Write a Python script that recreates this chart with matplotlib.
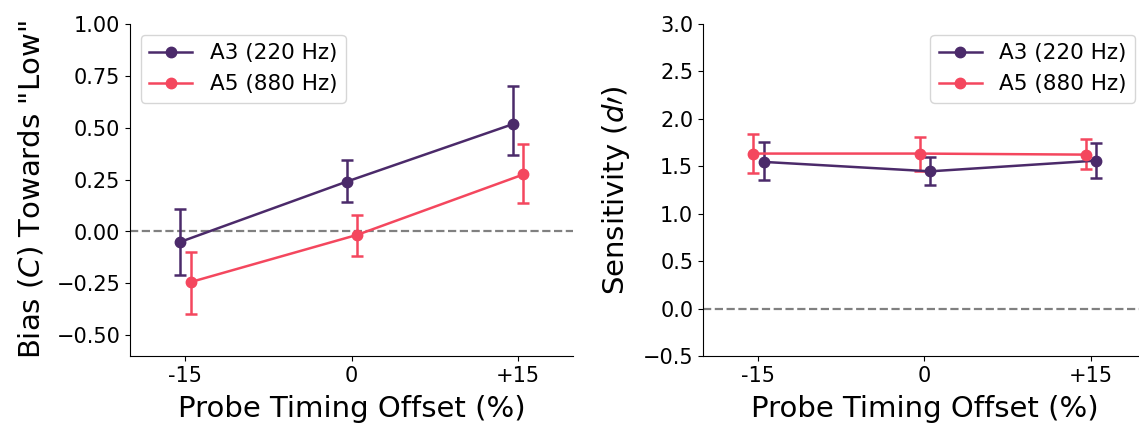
"""
Bias and sensitivity by probe timing offset, two reference pitches.
"""

import matplotlib
matplotlib.use("Agg")
import matplotlib.pyplot as plt

OFFSET_LABELS = ["-15", "0", "+15"]
SERIES_NAMES = ["A3 (220 Hz)", "A5 (880 Hz)"]
COLORS = ["#4b2a6a", "#f4475e"]

# bias (C) towards "low": mean, lower bound, upper bound
BIAS_A3 = [-0.05, 0.24, 0.517]
BIAS_A3_LO = [-0.21, 0.14, 0.37]
BIAS_A3_HI = [0.11, 0.345, 0.70]
BIAS_A5 = [-0.243, -0.016, 0.275]
BIAS_A5_LO = [-0.40, -0.12, 0.138]
BIAS_A5_HI = [-0.10, 0.08, 0.42]

# sensitivity (d')
DPRIME_A3 = [1.546, 1.447, 1.56]
DPRIME_A3_LO = [1.356, 1.30, 1.377]
DPRIME_A3_HI = [1.76, 1.60, 1.746]
DPRIME_A5 = [1.634, 1.634, 1.623]
DPRIME_A5_LO = [1.433, 1.454, 1.475]
DPRIME_A5_HI = [1.84, 1.81, 1.785]

TICK_FS = 15
LEGEND_FS = 15.5
LABEL_FS = 21


def draw_panel(ax, series, offsets, ylabel, ylim, yticks, yfmt):
    for (mean, lo, hi), name, color, off in zip(series, SERIES_NAMES, COLORS, offsets):
        x = [i + off for i in range(len(mean))]
        yerr = [[m - l for m, l in zip(mean, lo)], [h - m for m, h in zip(mean, hi)]]
        ax.errorbar(x, mean, yerr=yerr, fmt="none", ecolor=color,
                    elinewidth=1.8, capsize=4, capthick=1.8, zorder=3)
        ax.plot(x, mean, marker="o", markersize=7.5, linewidth=1.8,
                color=color, label=name, zorder=4)

    ax.axhline(0, color="gray", linestyle="--", linewidth=1.6, zorder=1)

    ax.set_xticks(range(len(OFFSET_LABELS)))
    ax.set_xticklabels(OFFSET_LABELS)
    ax.set_xlim(-1 / 3, 7 / 3)
    ax.set_ylim(*ylim)
    ax.set_yticks(yticks)
    ax.set_yticklabels([yfmt.format(v).replace("-", "\u2212") for v in yticks])
    ax.tick_params(labelsize=TICK_FS)

    ax.set_xlabel("Probe Timing Offset (%)", fontsize=LABEL_FS, labelpad=7)
    ax.set_ylabel(ylabel, fontsize=LABEL_FS, labelpad=8)
    ax.spines["top"].set_visible(False)
    ax.spines["right"].set_visible(False)


fig = plt.figure(figsize=(11.39, 4.23), dpi=100)
W, H = 1139, 423
ax1 = fig.add_axes([130 / W, (H - 356) / H, 443 / W, 332 / H])
ax2 = fig.add_axes([703 / W, (H - 356) / H, 443 / W, 332 / H])

draw_panel(
    ax1,
    [(BIAS_A3, BIAS_A3_LO, BIAS_A3_HI), (BIAS_A5, BIAS_A5_LO, BIAS_A5_HI)],
    [-0.03, 0.035],
    'Bias ($C$) Towards "Low"',
    (-0.6, 1.0),
    [-0.5, -0.25, 0.0, 0.25, 0.5, 0.75, 1.0],
    "{:.2f}",
)
ax1.legend(loc="upper left", fontsize=LEGEND_FS)

draw_panel(
    ax2,
    [(DPRIME_A3, DPRIME_A3_LO, DPRIME_A3_HI), (DPRIME_A5, DPRIME_A5_LO, DPRIME_A5_HI)],
    [0.035, -0.03],
    r"Sensitivity ($d\prime$)",
    (-0.5, 3.0),
    [-0.5, 0.0, 0.5, 1.0, 1.5, 2.0, 2.5, 3.0],
    "{:.1f}",
)
ax2.legend(loc="upper right", fontsize=LEGEND_FS)

fig.savefig("out.png", dpi=100)
